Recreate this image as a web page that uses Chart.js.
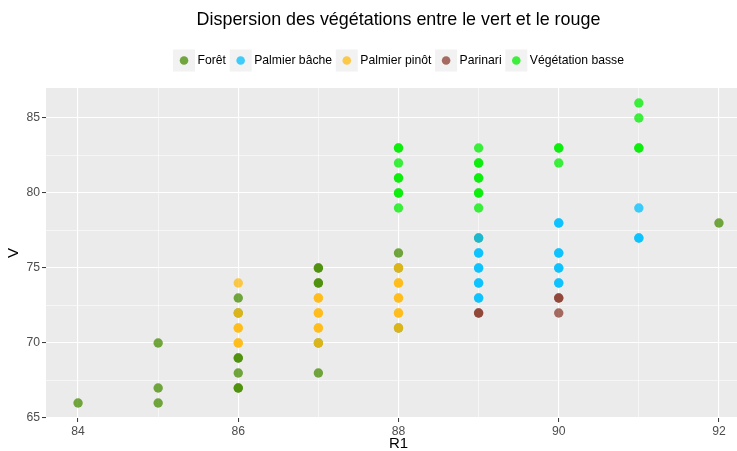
<!DOCTYPE html>
<html>
<head>
<meta charset="utf-8">
<script src="https://cdn.jsdelivr.net/npm/chart.js@4.4.1/dist/chart.umd.min.js"></script>
<style>
  html, body { margin: 0; padding: 0; background: #ffffff; overflow: hidden; }
  #wrap { width: 760px; height: 451px; position: relative; }
</style>
</head>
<body>
<div id="wrap"><canvas id="myChart"></canvas></div>
<script>
// observations per vegetation class (repeated pairs are overlapping points)
var foretR1 = [84, 85, 85, 85, 86, 86, 86, 86, 86, 86, 86, 87, 87, 87, 87, 87, 87, 88, 88, 88, 89, 92];
var foretV  = [66, 70, 67, 66, 73, 72, 69, 69, 68, 67, 67, 75, 75, 74, 74, 70, 68, 76, 75, 71, 77, 78];

var bacheR1 = [89, 89, 89, 89, 89, 89, 89, 89, 89, 90, 90, 90, 90, 90, 90, 90, 90, 91, 91, 91];
var bacheV  = [77, 76, 76, 75, 75, 74, 74, 73, 73, 78, 78, 76, 76, 75, 75, 74, 74, 79, 77, 77];

var pinotR1 = [86, 86, 86, 86, 86, 86, 87, 87, 87, 87, 87, 87, 87, 88, 88, 88, 88, 88, 88, 88, 88];
var pinotV  = [74, 72, 71, 71, 70, 70, 73, 73, 72, 72, 71, 71, 70, 75, 74, 74, 73, 73, 72, 72, 71];

var parinariR1 = [89, 89, 90, 90, 90];
var parinariV  = [72, 72, 73, 73, 72];

var vegR1 = [88, 88, 88, 88, 88, 88, 88, 88, 89, 89, 89, 89, 89, 89, 89, 89, 90, 90, 90, 91, 91, 91, 91];
var vegV  = [83, 83, 82, 81, 81, 80, 80, 79, 83, 82, 82, 81, 81, 80, 80, 79, 83, 83, 82, 86, 85, 83, 83];

var classNames = ["Forêt", "Palmier bâche", "Palmier pinôt", "Parinari", "Végétation basse"];
var classColors = [
  "rgba(69, 139, 0, 0.75)",
  "rgba(0, 191, 255, 0.75)",
  "rgba(255, 185, 15, 0.75)",
  "rgba(139, 62, 47, 0.75)",
  "rgba(0, 238, 0, 0.75)"
];

var r1Ticks = [84, 86, 88, 90, 92];
var vTicks = [65, 70, 75, 80, 85];

var FONT = "'Liberation Sans', Arial, Helvetica, sans-serif";

function pairs(xs, ys) {
  return xs.map(function (x, i) { return { x: x, y: ys[i] }; });
}

// majors plus the minor lines half way between them
function withMinors(major, lo, hi) {
  var step = major[1] - major[0];
  var all = [];
  for (var v = major[0] - step / 2; v <= hi; v += step / 2) {
    if (v >= lo) all.push(v);
  }
  return all;
}

var panelPlugin = {
  id: 'panel',
  beforeDraw: function (chart) {
    var a = chart.chartArea, ctx = chart.ctx;
    ctx.save();
    ctx.fillStyle = '#EBEBEB';
    ctx.fillRect(a.left, a.top, a.right - a.left, a.bottom - a.top);
    ctx.restore();
  }
};

var headerPlugin = {
  id: 'header',
  afterDraw: function (chart) {
    var a = chart.chartArea, ctx = chart.ctx;
    var cx = (a.left + a.right) / 2;
    ctx.save();
    ctx.fillStyle = '#000000';
    ctx.textAlign = 'center';
    ctx.textBaseline = 'middle';
    ctx.font = '17.9px ' + FONT;
    ctx.fillText('Dispersion des végétations entre le vert et le rouge', cx, 20.5);

    // legend keys
    var key = 22, gapText = 2.5, gapItem = 3.7, yMid = 60.5;
    ctx.font = '12.2px ' + FONT;
    var widths = classNames.map(function (n) { return ctx.measureText(n).width; });
    var total = 0;
    widths.forEach(function (w, i) {
      total += key + gapText + w + (i < widths.length - 1 ? gapItem : 0);
    });
    var x = cx - total / 2;
    ctx.textAlign = 'left';
    classNames.forEach(function (n, i) {
      ctx.fillStyle = '#F2F2F2';
      ctx.fillRect(x, yMid - key / 2, key, key);
      ctx.fillStyle = classColors[i];
      ctx.beginPath();
      ctx.arc(x + key / 2, yMid, 4.3, 0, Math.PI * 2);
      ctx.fill();
      ctx.fillStyle = '#000000';
      ctx.fillText(n, x + key + gapText, yMid + 0.5);
      x += key + gapText + widths[i] + gapItem;
    });
    ctx.restore();
  }
};

function gridFor(majors) {
  return {
    color: '#FFFFFF',
    lineWidth: function (c) { return c.tick && majors.indexOf(c.tick.value) >= 0 ? 1.1 : 0.55; },
    tickColor: function (c) { return c.tick && majors.indexOf(c.tick.value) >= 0 ? '#333333' : 'rgba(0,0,0,0)'; },
    tickLength: 4,
    tickWidth: 1
  };
}

var sets = [
  [foretR1, foretV],
  [bacheR1, bacheV],
  [pinotR1, pinotV],
  [parinariR1, parinariV],
  [vegR1, vegV]
];

var chart = new Chart(document.getElementById('myChart').getContext('2d'), {
  type: 'scatter',
  data: {
    datasets: sets.map(function (s, i) {
      return {
        label: classNames[i],
        data: pairs(s[0], s[1]),
        backgroundColor: classColors[i],
        borderWidth: 0,
        pointRadius: 4.7,
        pointHoverRadius: 4.7,
        order: i === 0 ? 1 : 0
      };
    })
  },
  options: {
    responsive: true,
    maintainAspectRatio: false,
    animation: false,
    events: [],
    layout: { padding: { top: 88, right: 9, bottom: 0, left: 0 } },
    plugins: {
      legend: { display: false },
      title: { display: false },
      tooltip: { enabled: false }
    },
    scales: {
      x: {
        type: 'linear',
        min: 83.6,
        max: 92.4,
        afterBuildTicks: function (scale) {
          scale.ticks = withMinors(r1Ticks, 83.6, 92.4).map(function (v) { return { value: v }; });
        },
        afterFit: function (scale) { scale.height = 33; },
        grid: gridFor(r1Ticks),
        border: { display: false },
        ticks: {
          autoSkip: false,
          maxRotation: 0,
          padding: 2,
          color: '#4D4D4D',
          font: { family: FONT, size: 12.2 },
          callback: function (v) { return r1Ticks.indexOf(v) >= 0 ? String(v) : ''; }
        },
        title: {
          display: true,
          text: 'R1',
          color: '#000000',
          padding: { top: 0, bottom: -2 },
          font: { family: FONT, size: 15 }
        }
      },
      y: {
        type: 'linear',
        min: 65,
        max: 87,
        afterBuildTicks: function (scale) {
          scale.ticks = withMinors(vTicks, 65, 87).map(function (v) { return { value: v }; });
        },
        afterFit: function (scale) { scale.width = 46; },
        grid: gridFor(vTicks),
        border: { display: false },
        ticks: {
          autoSkip: false,
          padding: 2,
          color: '#4D4D4D',
          font: { family: FONT, size: 12.2 },
          callback: function (v) { return vTicks.indexOf(v) >= 0 ? String(v) : ''; }
        },
        title: {
          display: true,
          text: 'V',
          color: '#000000',
          padding: { top: 5, bottom: 0 },
          font: { family: FONT, size: 15 }
        }
      }
    }
  },
  plugins: [panelPlugin, headerPlugin]
});
</script>
</body>
</html>
